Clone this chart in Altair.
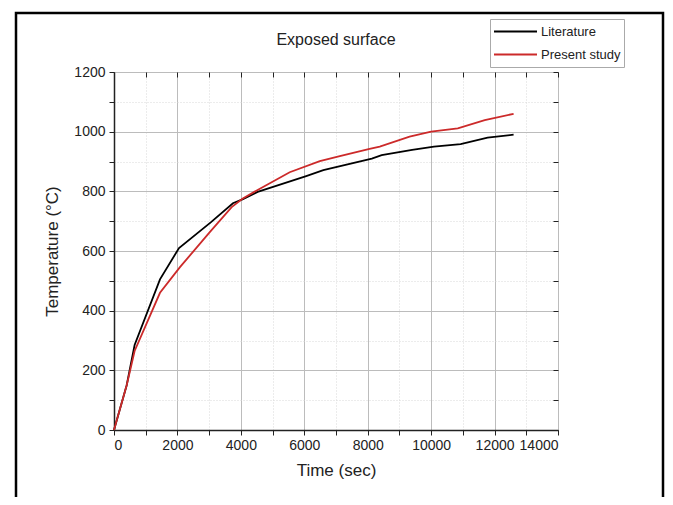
import altair as alt
import pandas as pd

# Literature series (black)
lit_time = [0, 400, 650, 1450, 2050, 3050, 3750, 4050, 4530, 6060, 6600, 8130, 8440, 9400, 10090, 10930, 11780, 12600]
lit_temp = [0, 150, 285, 505, 610, 696, 760, 773, 798, 851, 871, 910, 921, 939, 950, 958, 980, 990]

# Present study series (red)
study_time = [0, 400, 650, 1450, 2080, 3020, 3710, 4050, 4500, 5540, 6490, 7120, 8060, 8380, 9320, 10000, 10840, 11690, 12600]
study_temp = [0, 150, 265, 460, 546, 663, 747, 775, 803, 864, 901, 918, 942, 950, 983, 1000, 1011, 1039, 1060]

series_names = ["Literature", "Present study"]
series_colors = ["#000000", "#cc2a2a"]

x_ticks = list(range(0, 14001, 1000))
y_ticks = list(range(0, 1201, 100))

df = pd.concat([
    pd.DataFrame({"t": lit_time, "T": lit_temp, "s": series_names[0], "o": range(len(lit_time))}),
    pd.DataFrame({"t": study_time, "T": study_temp, "s": series_names[1], "o": range(len(study_time))}),
])

W, H = 444, 358
FONT = "Liberation Sans"

x_scale = alt.Scale(domain=[0, 14000], nice=False, zero=False)
y_scale = alt.Scale(domain=[0, 1200], nice=False, zero=False)

grid_dash_x = {"condition": {"test": "datum.value % 2000 != 0", "value": [1, 2]}, "value": []}
grid_col_x = {"condition": {"test": "datum.value % 2000 != 0", "value": "#d8d8d8"}, "value": "#bcbcbc"}
grid_dash_y = {"condition": {"test": "datum.value % 200 != 0", "value": [1, 2]}, "value": []}
grid_col_y = {"condition": {"test": "datum.value % 200 != 0", "value": "#d8d8d8"}, "value": "#bcbcbc"}

lines = alt.Chart(df).mark_line(strokeWidth=1.8).encode(
    x=alt.X("t:Q", scale=x_scale, axis=alt.Axis(
        title="Time (sec)", values=x_ticks,
        labelExpr="datum.value % 2000 == 0 ? datum.label : ''",
        format="d", gridDash=grid_dash_x, gridColor=grid_col_x, gridWidth=1,
        tickSize=5, tickColor="#222", domainColor="#222", domainWidth=1.5,
        labelFontSize=14, titleFontSize=17, labelPadding=3, titlePadding=10,
        labelColor="#222", titleColor="#222", titleFontWeight="normal",
        labelFont=FONT, titleFont=FONT, orient="bottom")),
    y=alt.Y("T:Q", scale=y_scale, axis=alt.Axis(
        title="Temperature (°C)", values=y_ticks,
        labelExpr="datum.value % 200 == 0 ? datum.label : ''",
        format="d", gridDash=grid_dash_y, gridColor=grid_col_y, gridWidth=1,
        tickSize=5, tickColor="#222", domainColor="#222", domainWidth=1.5,
        labelFontSize=14, titleFontSize=17, labelPadding=4, titlePadding=12,
        labelColor="#222", titleColor="#222", titleFontWeight="normal",
        labelFont=FONT, titleFont=FONT, orient="left")),
    color=alt.Color("s:N", scale=alt.Scale(domain=series_names, range=series_colors),
                    legend=alt.Legend(title=None, orient="none", legendX=376, legendY=-53,
                                      symbolType="stroke", symbolSize=1849, symbolStrokeWidth=1.8,
                                      labelFontSize=13, labelFont=FONT, labelColor="#222",
                                      strokeColor="#aaaaaa", padding=3, rowPadding=4,
                                      clipHeight=19, labelOffset=3)),
    order="o:Q",
)

# invisible layer carrying inward ticks on the top and right edges
inner = alt.Chart(df).mark_point(opacity=0).encode(
    x=alt.X("t:Q", scale=x_scale, axis=alt.Axis(
        title=None, labels=False, grid=False, domain=False, values=x_ticks,
        tickSize=5, tickColor="#222", orient="bottom", offset=-H)),
    y=alt.Y("T:Q", scale=y_scale, axis=alt.Axis(
        title=None, labels=False, grid=False, domain=False, values=y_ticks,
        tickSize=5, tickColor="#222", orient="left", offset=-W)),
)

frame = alt.Chart(pd.DataFrame({"k": [0]})).mark_rect(
    filled=False, stroke="black", strokeWidth=2.5
).encode(x=alt.value(-98), x2=alt.value(549), y=alt.value(-59), y2=alt.value(450))

chart = alt.layer(lines, inner, frame).resolve_axis(x="independent", y="independent").properties(
    width=W, height=H,
    title=alt.Title("Exposed surface", fontSize=16, font=FONT, fontWeight="normal",
                    color="#222", offset=-36, anchor="middle"),
    padding={"left": 106, "top": 64, "right": 107, "bottom": 67},
    autosize="none",
).configure_view(stroke="#222", strokeWidth=1.5).configure(background="white")

chart.save("out.html", embed_options={"renderer": "svg", "actions": False})
